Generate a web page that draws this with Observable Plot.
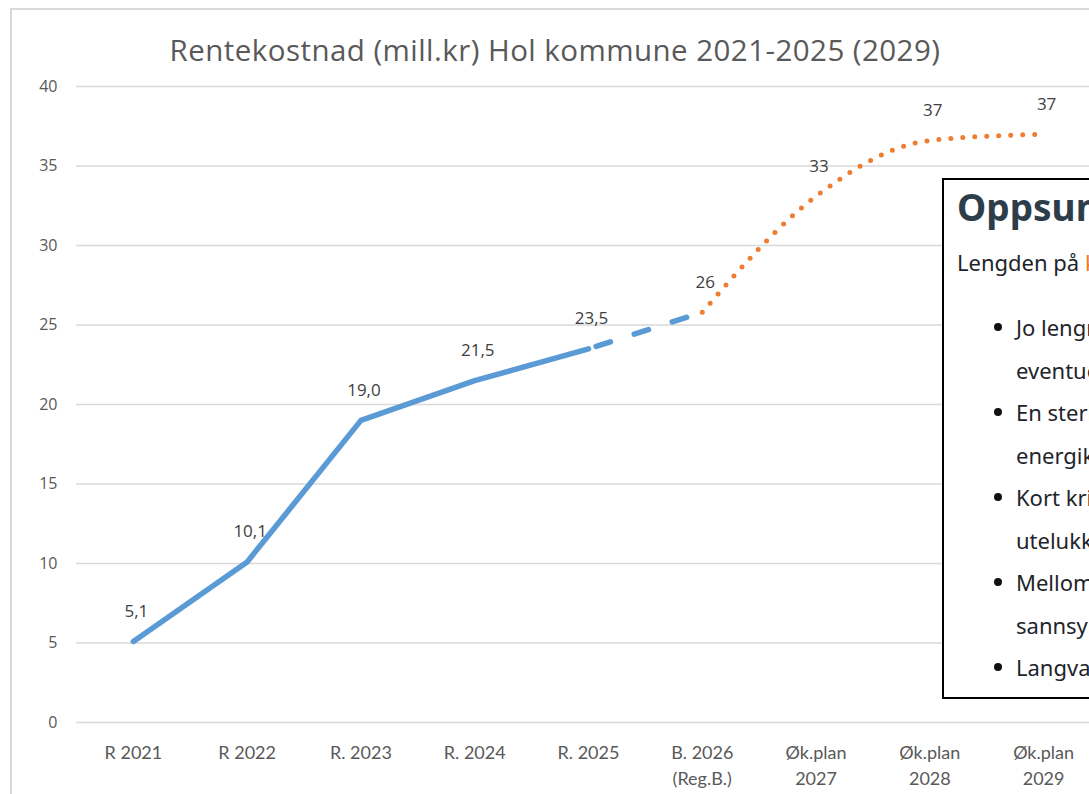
<!DOCTYPE html>
<html><head><meta charset="utf-8">
<script src="https://cdn.jsdelivr.net/npm/d3@7"></script>
<script src="https://cdn.jsdelivr.net/npm/@observablehq/plot@0.6"></script>
<style>
html,body{margin:0;padding:0;background:#fff;overflow:hidden;width:1089px;height:794px;position:relative;}
#frame{position:absolute;left:10px;top:8px;width:1200px;height:900px;border-left:2px solid #d9d9d9;border-top:2px solid #d9d9d9;box-sizing:border-box;}
#title{position:absolute;left:0;width:1110px;top:30px;text-align:center;font-family:"Open Sans",sans-serif;font-size:29.5px;letter-spacing:0.45px;color:#595959;white-space:nowrap;line-height:40px;}
#chart{position:absolute;left:0;top:70px;width:1100px;}
#chart svg{max-width:none !important;}
#note{position:absolute;left:942px;top:178px;width:420px;height:521px;border:2px solid #000;background:#fff;overflow:hidden;box-sizing:border-box;font-family:"Noto Sans",sans-serif;white-space:nowrap;}
#note .h{position:absolute;left:13px;top:7px;font-size:37px;font-weight:bold;color:#2d3e4a;line-height:40px;}
#note .p{position:absolute;left:13px;top:61px;font-size:22px;color:#1e242a;line-height:42.5px;}
#note .p span{color:#e67e22;}
#note .l{position:absolute;left:72px;font-size:22px;color:#1e242a;line-height:42.5px;}
#note .b{position:absolute;left:50px;width:8px;height:8px;border-radius:50%;background:#111;}
</style></head>
<body>
<div id="frame"></div>
<div id="title">Rentekostnad (mill.kr) Hol kommune 2021-2025 (2029)</div>
<div id="chart"></div>
<div id="note"></div>
<script>
const categories = ["R 2021","R 2022","R. 2023","R. 2024","R. 2025","B. 2026\n(Reg.B.)","Øk.plan\n2027","Øk.plan\n2028","Øk.plan\n2029"];
const values = [5.1, 10.1, 19.0, 21.5, 23.5, 25.8, 33.1, 36.6, 37.0];
const valueLabels = ["5,1","10,1","19,0","21,5","23,5","26","33","37","37"];
const yTicks = [0,5,10,15,20,25,30,35,40];
const actualCats = categories.slice(0,5);
const budgetCats = categories.slice(4,6);
const planCats = categories.slice(5,9);

const noteTitle = "Oppsummering";
const noteIntro = "Lengden på ";
const noteIntroHighlight = "krisen";
const noteLines = [
  ["•","Jo lengre"],["","eventuelt"],
  ["•","En sterkere"],["","energikrise"],
  ["•","Kort krise"],["","utelukkes"],
  ["•","Mellomlang"],["","sannsynlig"],
  ["•","Langvarig"]
];

const data = categories.map((c,i)=>({cat:c, value:values[i], label:valueLabels[i]}));
const seg = cats => data.filter(d=>cats.includes(d.cat));

const chart = Plot.plot({
  width: 1100, height: 724,
  marginTop: 16, marginBottom: 72, marginLeft: 76, marginRight: 0,
  style: {background:"transparent", overflow:"visible", maxWidth:"none"},
  x: {type:"point", domain: categories, padding: 0.5, round:false},
  y: {domain:[0,40]},
  marks: [
    Plot.gridY(yTicks, {stroke:"#d9d9d9", strokeOpacity:1, strokeWidth:1.5}),
    Plot.axisY(yTicks, {tickSize:0, tickPadding:19, fontSize:16, fontFamily:"Open Sans", fill:"#595959", label:null}),
    Plot.axisX({tickSize:0, tickPadding:18, fontSize:18, fontFamily:"Lato", fill:"#595959", lineHeight:1.45, label:null}),
    Plot.line(seg(actualCats), {x:"cat", y:"value", stroke:"#5b9bd5", strokeWidth:5.5, strokeLinejoin:"round"}),
    Plot.line(seg(budgetCats), {x:"cat", y:"value", stroke:"#5b9bd5", strokeWidth:5.5, strokeLinecap:"round", strokeDasharray:"15,25", strokeDashoffset:-8}),
    Plot.line(seg(planCats), {x:"cat", y:"value", stroke:"#ed7d31", strokeWidth:5, strokeLinecap:"round", strokeDasharray:"0,12", curve:"monotone-x"}),
    Plot.text(data, {x:"cat", y:"value", text:"label", dx:3, dy:-30, fontSize:17, fontFamily:"Open Sans", fill:"#404040"})
  ]
});
document.getElementById("chart").appendChild(chart);

const note = document.getElementById("note");
let html = `<div class="h">${noteTitle}</div><div class="p">${noteIntro}<span>${noteIntroHighlight}</span></div>`;
noteLines.forEach((l,i)=>{
  const top = 126 + i*42.5;
  if (l[0]) html += `<div class="b" style="top:${top + 17}px"></div>`;
  html += `<div class="l" style="top:${top}px">${l[1]}</div>`;
});
note.innerHTML = html;
</script>
</body></html>
